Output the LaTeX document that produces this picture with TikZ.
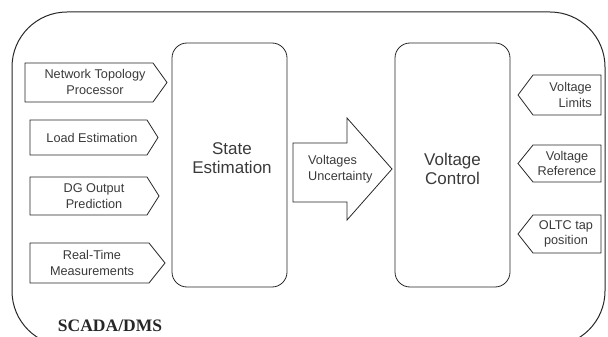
\documentclass[tikz,border=0pt]{standalone}
\usepackage{fontspec}
\setmainfont{Liberation Sans}
\newfontfamily\scadafont{Liberation Serif}
\usepackage{tikz}
\usetikzlibrary{positioning}

\definecolor{txtgray}{HTML}{3A3A3A}

\tikzset{
    shapeline/.style={draw=black!85, line width=0.8pt, line join=miter},
    smalltxt/.style={text=txtgray, align=center, inner sep=0pt,
        font=\fontsize{12.7}{15.5}\selectfont},
    bigtxt/.style={text=txtgray, align=center, inner sep=0pt,
        font=\fontsize{17}{19}\selectfont},
    blockbox/.style={draw=black!85, line width=0.8pt, rounded corners=15pt,
        minimum width=115pt, minimum height=244pt, inner sep=0pt}
}

\begin{document}
\begin{tikzpicture}[x=1pt, y=-1pt]
    \useasboundingbox (0,0) rectangle (608,337);
    \clip (0,0) rectangle (608,337);

    % outer SCADA/DMS frame
    \draw[black!85, line width=1pt, rounded corners=55pt] (12,12) rectangle (605,346);
    \node[text=black!85, inner sep=0pt, font=\scadafont\bfseries\fontsize{17.5}{20}\selectfont] (scada) at (110,326) {SCADA/DMS};

    % main blocks
    \node[blockbox] (se) at (229.5,165) {};
    \node[blockbox] (vc) at (452.5,165) {};
    \node[bigtxt] (setxt) at (232,158) {State\\Estimation};
    \node[bigtxt] (vctxt) at (452.5,169) {Voltage\\Control};

    % inputs of the state estimation
    \foreach \xl/\xr/\xt/\yt/\yb in {25/153/167/63/102, 30/147/158/120/155,
                                     30/147/159/177/215, 30/149/165/243/283}
        \draw[shapeline] (\xl,\yt) -- (\xr,\yt) -- (\xt,{(\yt+\yb)/2})
            -- (\xr,\yb) -- (\xl,\yb) -- cycle;
    \node[smalltxt] (ntp) at (95,82) {Network Topology\\Processor};
    \node[smalltxt] (load) at (92,137.5) {Load Estimation};
    \node[smalltxt] (dg) at (94,196) {DG Output\\Prediction};
    \node[smalltxt] (rtm) at (92,263) {Real-Time\\Measurements};

    % inputs of the voltage control
    \foreach \yt/\yb in {75/115, 145/182, 215/253}
        \draw[shapeline] (601,\yt) -- (533,\yt) -- (518,{(\yt+\yb)/2})
            -- (533,\yb) -- (601,\yb) -- cycle;
    \node[smalltxt, align=right, anchor=east] (vlim) at (592,95) {Voltage\\Limits};
    \node[smalltxt] (vref) at (567,163.5) {Voltage\\Reference};
    \node[smalltxt] (oltc) at (566,234) {OLTC tap\\position};

    % block arrow between the two blocks
    \draw[shapeline] (293,143) -- (347,143) -- (347,118) -- (392,169)
        -- (347,220) -- (347,202) -- (293,202) -- cycle;
    \node[smalltxt, align=left, anchor=west] (vunc) at (308,169) {Voltages\\Uncertainty};
\end{tikzpicture}
\end{document}
